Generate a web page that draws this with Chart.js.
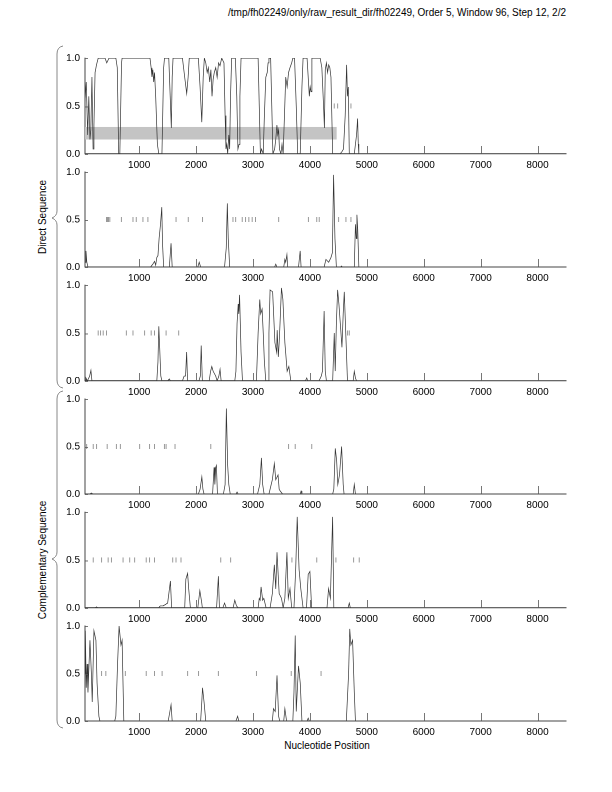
<!DOCTYPE html>
<html><head><meta charset="utf-8">
<script src="https://cdn.jsdelivr.net/npm/chart.js@4.4.1/dist/chart.umd.min.js"></script>
<style>
html,body{margin:0;padding:0;background:#fff;width:612px;height:792px;overflow:hidden;font-family:"Liberation Sans",Arial,sans-serif;}
canvas{position:absolute;left:0;}
.t{position:absolute;font-size:10px;color:#000;white-space:nowrap;line-height:1;}
.rot{transform:translate(-50%,-50%) rotate(-90deg);}
svg{position:absolute;left:0;top:0;}
</style></head><body>
<div class="t" style="right:46px;top:8px;">/tmp/fh02249/only/raw_result_dir/fh02249, Order 5, Window 96, Step 12, 2/2</div>
<div class="t rot" style="left:43px;top:217px;">Direct Sequence</div>
<div class="t rot" style="left:43px;top:560px;">Complementary Sequence</div>
<div class="t" style="left:327px;top:741px;transform:translateX(-50%);">Nucleotide Position</div>
<svg width="612" height="792">
<path d="M63 46 Q57 47 57 54 L57 211 Q57 216 52 218 Q57 220 57 225 L57 380 Q57 387 63 388" fill="none" stroke="#888" stroke-width="1"/>
<path d="M63 391 Q57 392 57 399 L57 552 Q57 557 52 559 Q57 561 57 566 L57 720 Q57 727 63 728" fill="none" stroke="#888" stroke-width="1"/>
</svg>
<script>
// ---------- data ----------
const xMin = 48, xMax = 8500;
const xTicks = [1000,2000,3000,4000,5000,6000,7000,8000];
const yTicks = [0,0.5,1.0];
const bandX = [48, 4470];
const bandY = [0.15, 0.28];

const dir1X = [48,70,95,115,135,150,170,190,205,225,250,280,400,430,470,590,615,640,660,690,700,1190,1210,1225,1240,1255,1270,1290,1320,1345,1400,1430,1445,1520,1545,1565,1580,1595,1760,1800,1835,1860,1880,2040,2070,2100,2125,2145,2170,2195,2215,2240,2260,2280,2300,2320,2345,2370,2395,2420,2450,2490,2510,2525,2540,2555,2575,2590,2605,2625,2690,2715,2735,2755,2770,2790,3090,3110,3130,3150,3180,3200,3225,3250,3265,3280,3310,3330,3350,3380,3400,3420,3435,3450,3465,3490,3510,3530,3550,3575,3600,3625,3650,3680,3700,3730,3760,3785,3830,3860,3880,3950,3975,3990,4005,4020,4035,4180,4210,4240,4255,4270,4290,4310,4330,4350,4370,4385,4400,4530,4560,4590,4620,4645,4660,4675,4692,4780,4800,4820,4838,4850,4860];
const dir1Y = [0.55,0.75,0.2,0.6,0.15,0.25,0.8,0.05,0.3,0.85,0.93,1.0,1.0,0.95,1.0,1.0,0.9,0.0,0.0,0.95,1.0,1.0,0.9,0.8,0.88,0.75,0.85,0.6,0.1,0.0,0.0,0.9,1.0,1.0,0.6,0.27,0.8,1.0,1.0,0.8,0.63,0.8,1.0,1.0,0.7,0.33,0.8,1.0,0.95,0.85,0.9,0.75,0.88,0.6,0.78,0.85,0.9,0.8,0.95,0.92,1.0,0.95,0.4,0.05,0.1,0.0,0.2,0.05,0.6,1.0,1.0,0.6,0.05,0.1,0.6,1.0,1.0,0.5,0.0,0.05,0.0,0.4,0.8,0.85,0.95,1.0,1.0,0.5,0.0,0.05,0.15,0.3,0.2,0.25,0.05,0.0,0.1,0.0,0.35,0.8,0.7,0.85,0.9,0.95,1.0,1.0,0.5,0.0,0.0,0.7,1.0,1.0,0.75,0.6,0.7,0.65,1.0,1.0,0.9,0.5,0.27,0.88,0.95,0.85,0.93,0.9,0.8,0.4,0.0,0.0,0.02,0.05,0.4,0.93,0.6,0.7,0.0,0.0,0.1,0.2,0.37,0.1,0.0];
const dir1Marks = [4428,4487,4721];

const dir2X = [48,65,80,100,1200,1240,1270,1290,1310,1330,1350,1375,1397,1410,1430,1530,1560,1580,2030,2055,2080,2500,2530,2549,2565,2590,3380,3400,3420,3540,3560,3575,3596,3610,3800,3829,3845,4250,4282,4330,4370,4395,4416,4440,4465,4540,4555,4570,4780,4800,4815,4826,4840,4860];
const dir2Y = [0.05,0.17,0.05,0.0,0.0,0.03,0.06,0.02,0.1,0.12,0.3,0.45,0.63,0.25,0.0,0.0,0.25,0.0,0.0,0.05,0.0,0.0,0.2,0.67,0.3,0.0,0.0,0.03,0.0,0.0,0.08,0.05,0.13,0.0,0.0,0.17,0.0,0.0,0.08,0.05,0.1,0.15,0.97,0.3,0.0,0.0,0.01,0.0,0.0,0.45,0.3,0.55,0.4,0.0];
const dir2Marks = [426,443,461,484,688,891,949,1066,1153,1648,1863,2113,2648,2695,2811,2869,2927,2986,3044,3451,3974,4120,4164,4504,4633,4721];

const dir3X = [48,65,90,130,152,170,1310,1330,1345,1360,1380,1400,1500,1530,1550,1760,1790,1815,1834,1850,2050,2075,2090,2110,2230,2255,2276,2300,2345,2370,2400,2421,2440,2680,2700,2720,2740,2750,2764,2790,2815,3060,3090,3119,3135,3160,3180,3200,3225,3265,3280,3300,3345,3385,3415,3425,3445,3460,3475,3500,3525,3560,3600,3630,3665,3920,3945,3960,4160,4200,4220,4250,4270,4290,4400,4428,4445,4465,4487,4510,4540,4563,4585,4604,4630,4660,4760,4780,4800,4820];
const dir3Y = [0.0,0.03,0.0,0.05,0.11,0.0,0.0,0.2,0.57,0.35,0.05,0.0,0.0,0.02,0.0,0.0,0.05,0.05,0.3,0.0,0.0,0.05,0.37,0.0,0.0,0.1,0.15,0.1,0.05,0.0,0.05,0.12,0.0,0.0,0.1,0.6,0.8,0.7,0.9,0.3,0.0,0.0,0.5,0.85,0.7,0.75,0.5,0.2,0.0,0.0,0.5,0.95,0.93,0.4,0.3,0.53,0.25,0.4,0.6,0.97,0.85,0.4,0.1,0.15,0.0,0.0,0.03,0.0,0.0,0.05,0.1,0.73,0.1,0.0,0.0,0.5,0.1,0.6,0.95,0.8,0.55,0.35,0.7,0.93,0.5,0.0,0.0,0.1,0.03,0.0];
const dir3Marks = [280,321,368,426,775,891,1095,1211,1269,1473,1694,4662,4692];

const comp1X = [48,130,160,190,2040,2070,2101,2120,2140,2290,2316,2330,2345,2357,2375,2480,2510,2532,2555,2575,2600,2700,2720,2740,3080,3120,3148,3170,3195,3280,3300,3340,3375,3400,3440,3460,3480,3520,3830,3845,3860,4400,4420,4446,4470,4490,4520,4557,4585,4600,4760,4780,4800];
const comp1Y = [0.0,0.0,0.01,0.0,0.0,0.05,0.18,0.05,0.0,0.0,0.28,0.1,0.28,0.3,0.0,0.0,0.1,0.9,0.3,0.1,0.0,0.0,0.02,0.0,0.0,0.1,0.38,0.1,0.0,0.0,0.05,0.15,0.32,0.15,0.2,0.05,0.03,0.0,0.0,0.03,0.0,0.0,0.05,0.48,0.35,0.1,0.2,0.5,0.1,0.0,0.0,0.1,0.0];
const comp1Marks = [77,193,251,438,600,670,1008,1182,1269,1444,1473,1630,2258,3625,3742,4032];

const comp2X = [48,220,250,280,1340,1370,1420,1500,1549,1570,1800,1820,1851,1870,1900,2030,2066,2100,2110,2360,2392,2410,2470,2500,2530,2650,2680,2710,2740,3090,3110,3125,3142,3170,3190,3230,3300,3340,3375,3400,3422,3460,3500,3530,3560,3596,3620,3650,3680,3720,3750,3777,3810,3840,3880,3940,3970,4000,4030,4300,4328,4360,4399,4420,4670,4692,4710];
const comp2Y = [0.0,0.0,0.01,0.0,0.0,0.02,0.02,0.05,0.28,0.0,0.0,0.3,0.36,0.2,0.0,0.0,0.18,0.05,0.0,0.0,0.33,0.0,0.0,0.05,0.0,0.0,0.08,0.02,0.0,0.0,0.1,0.08,0.22,0.08,0.1,0.0,0.0,0.15,0.45,0.2,0.58,0.15,0.1,0.0,0.1,0.58,0.1,0.2,0.0,0.0,0.4,0.95,0.4,0.2,0.0,0.0,0.35,0.38,0.0,0.0,0.2,0.1,0.95,0.0,0.0,0.05,0.0];
const comp2Marks = [193,339,455,513,717,833,920,1124,1182,1269,1589,1647,1735,2433,2607,3684,4120,4457,4768,4867];

const comp3X = [48,54,70,85,100,135,160,175,205,240,260,292,310,570,590,620,647,680,700,730,1510,1540,1560,1580,2080,2100,2113,2140,2170,2700,2730,2750,3340,3360,3390,3422,3450,3470,3540,3560,3590,3700,3720,3742,3760,3800,3830,3860,3950,3970,3990,4640,4680,4700,4720,4750,4780,4800];
const comp3Y = [0.5,0.95,0.35,0.6,0.3,0.85,0.5,0.2,0.95,0.85,0.4,0.05,0.0,0.0,0.05,0.6,1.0,0.8,0.85,0.0,0.0,0.1,0.17,0.0,0.0,0.2,0.35,0.2,0.0,0.0,0.05,0.0,0.0,0.13,0.1,0.48,0.05,0.0,0.0,0.13,0.0,0.0,0.3,0.9,0.1,0.58,0.4,0.0,0.0,0.03,0.0,0.0,0.5,0.97,0.8,0.85,0.3,0.0];
const comp3Marks = [339,414,757,1124,1269,1403,1851,2043,2392,3061,3672,4196];

// ---------- layout ----------
const plotTops = [55,168.5,282,395.5,509,622.5];
const plotH = 98.5;
const padTop = 8, xAxisH = 20, leftW = 85, rightPad = 612-566;

const panels = [
  [dir1X,dir1Y,dir1Marks,true],
  [dir2X,dir2Y,dir2Marks,false],
  [dir3X,dir3Y,dir3Marks,false],
  [comp1X,comp1Y,comp1Marks,false],
  [comp2X,comp2Y,comp2Marks,false],
  [comp3X,comp3Y,comp3Marks,false]
];

const decor = {
  id:'decor',
  beforeDatasetsDraw(chart, args, o){
    const {ctx, scales:{x,y}} = chart;
    if (o.band){
      const x0=x.getPixelForValue(bandX[0]), x1=x.getPixelForValue(bandX[1]);
      const y0=y.getPixelForValue(bandY[1]), y1=y.getPixelForValue(bandY[0]);
      ctx.save(); ctx.fillStyle='#c4c4c4'; ctx.fillRect(x0,y0,x1-x0,y1-y0); ctx.restore();
    }
  },
  afterDraw(chart){
    const {ctx, scales:{x,y}} = chart;
    ctx.save(); ctx.strokeStyle='#555'; ctx.lineWidth=0.8;
    const yb = y.getPixelForValue(0);
    xTicks.forEach(v=>{const px=Math.round(x.getPixelForValue(v))+0.5; ctx.beginPath(); ctx.moveTo(px,yb); ctx.lineTo(px,yb-8); ctx.stroke();});
    const xl = x.getPixelForValue(xMin);
    yTicks.forEach(v=>{const py=Math.round(y.getPixelForValue(v))+0.5; ctx.beginPath(); ctx.moveTo(xl,py); ctx.lineTo(xl+3,py); ctx.stroke();});
    ctx.restore();
  }
};

panels.forEach((p,i)=>{
  const [xs,ys,marks,band] = p;
  const c = document.createElement('canvas');
  const h = padTop + plotH + xAxisH;
  c.width = 612; c.height = h;
  c.style.top = (plotTops[i]-padTop)+'px';
  c.style.width='612px'; c.style.height=h+'px';
  document.body.appendChild(c);
  new Chart(c,{
    type:'line',
    data:{datasets:[
      {type:'scatter', data: marks.map(v=>({x:v,y:0.5})), pointStyle:'line', rotation:90, pointRadius:2.5, borderColor:'#999', borderWidth:1, backgroundColor:'#999', order:2},
      {type:'line', data: xs.map((v,k)=>({x:v,y:ys[k]})), borderColor:'#333', borderWidth:0.7, pointRadius:0, tension:0, fill:false, order:1}
    ]},
    options:{
      responsive:false, animation:false, devicePixelRatio:2,
      layout:{padding:{left:0,right:rightPad,top:padTop,bottom:0}},
      plugins:{legend:{display:false},tooltip:{enabled:false},decor:{band:band}},
      scales:{
        x:{type:'linear',min:xMin,max:xMax,
           afterBuildTicks:s=>{s.ticks=xTicks.map(v=>({value:v}));},
           afterFit:s=>{s.height=xAxisH;},
           grid:{display:false,drawTicks:false},
           border:{display:true,color:'#444',width:1},
           ticks:{padding:5,color:'#000',font:{family:'"Liberation Sans", Arial, sans-serif',size:10},maxRotation:0,autoSkip:false,callback:v=>String(v)}},
        y:{type:'linear',min:0,max:1,
           afterBuildTicks:s=>{s.ticks=yTicks.map(v=>({value:v}));},
           afterFit:s=>{s.width=leftW;},
           grid:{display:false,drawTicks:false},
           border:{display:true,color:'#444',width:1},
           ticks:{padding:5,color:'#000',font:{family:'"Liberation Sans", Arial, sans-serif',size:10},callback:v=>v.toFixed(1)}}
      }
    },
    plugins:[decor]
  });
});
</script>
</body></html>
